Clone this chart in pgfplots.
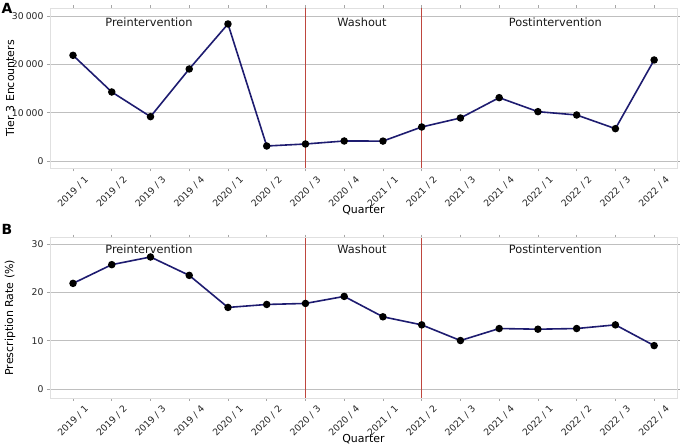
\documentclass[border=0pt]{standalone}
\usepackage{pgfplots}
\pgfplotsset{compat=1.18}
\usepackage{fontspec}
\setmainfont{DejaVu Sans}
\definecolor{navyline}{RGB}{30,28,112}
\definecolor{sepred}{RGB}{190,70,62}
\tikzset{
  region/.style={font=\fontsize{11.4}{12}\selectfont, text=black!90},
  dataline/.style={navyline, line width=1.6bp, mark=*, mark size=2.9bp, mark options={fill=black, draw=black}},
}
\pgfplotsset{
  panel/.style={
    scale only axis, width=627bp, height=160bp,
    anchor=south west,
    xmin=-0.594, xmax=15.59,
    xtick={0,...,15},
    xticklabels={2019 / 1,2019 / 2,2019 / 3,2019 / 4,2020 / 1,2020 / 2,2020 / 3,2020 / 4,2021 / 1,2021 / 2,2021 / 3,2021 / 4,2022 / 1,2022 / 2,2022 / 3,2022 / 4},
    scaled y ticks=false,
    /pgf/number format/assume math mode=true,
    tick label style={font=\fontsize{9.3}{10}\selectfont, text=black!85},
    xticklabel style={yshift=-20.5bp, rotate=45, anchor=center},
    label style={font=\fontsize{11}{12}\selectfont},
    xlabel={Quarter},
    xlabel style={at={(axis description cs:0.5,-0.262)}, anchor=center},
    ylabel style={at={(axis description cs:-0.0638,0.5)}, anchor=center},
    axis line style={black!12},
    tick align=outside, major tick length=3bp,
    tick style={black!35, line width=0.6bp},
    ymajorgrids, major grid style={black!25, line width=0.8bp},
    clip=false,
  },
}
\begin{document}
\begin{tikzpicture}
\path[use as bounding box] (0,0) rectangle (680bp,446bp);
% Panel A
\begin{axis}[panel, at={(50bp,277.7bp)},
  ymin=-1510, ymax=31590,
  ytick={0,10000,20000,30000},
  yticklabels={0,10\hspace{0.22em}000,20\hspace{0.22em}000,30\hspace{0.22em}000},
  ylabel={Tier 3 Encounters}]
\addplot[dataline] coordinates {
(0,21863) (1,14276) (2,9172) (3,19035) (4,28345) (5,3104) (6,3517) (7,4138)
(8,4120) (9,7035) (10,8897) (11,13103) (12,10207) (13,9518) (14,6690) (15,20898)};
\addplot[draw={rgb,255:red,190;green,70;blue,62}, line width=1.3bp, mark=none, forget plot] coordinates {(6,-1510) (6,31590)};
\addplot[draw={rgb,255:red,190;green,70;blue,62}, line width=1.3bp, mark=none, forget plot] coordinates {(9,-1510) (9,31590)};
\node[region] at (axis cs:1.96,28760) {Preintervention};
\node[region] at (axis cs:7.46,28760) {Washout};
\node[region] at (axis cs:12.45,28760) {Postintervention};
\end{axis}
% Panel B
\begin{axis}[panel, at={(50bp,48.3bp)},
  ymin=-1.8, ymax=31.37,
  ytick={0,10,20,30},
  ylabel={Prescription Rate (\%)}]
\addplot[dataline] coordinates {
(0,21.9) (1,25.78) (2,27.37) (3,23.56) (4,16.91) (5,17.53) (6,17.74) (7,19.2)
(8,14.97) (9,13.3) (10,10.05) (11,12.54) (12,12.4) (13,12.54) (14,13.3) (15,9.0)};
\addplot[draw={rgb,255:red,190;green,70;blue,62}, line width=1.3bp, mark=none, forget plot] coordinates {(6,-1.8) (6,31.37)};
\addplot[draw={rgb,255:red,190;green,70;blue,62}, line width=1.3bp, mark=none, forget plot] coordinates {(9,-1.8) (9,31.37)};
\node[region] at (axis cs:1.96,28.9) {Preintervention};
\node[region] at (axis cs:7.46,28.9) {Washout};
\node[region] at (axis cs:12.45,28.9) {Postintervention};
\end{axis}
\node[font=\bfseries\fontsize{14}{15}\selectfont] at (7bp,437.7bp) {A};
\node[font=\bfseries\fontsize{14}{15}\selectfont] at (7bp,216.5bp) {B};
\end{tikzpicture}
\end{document}
